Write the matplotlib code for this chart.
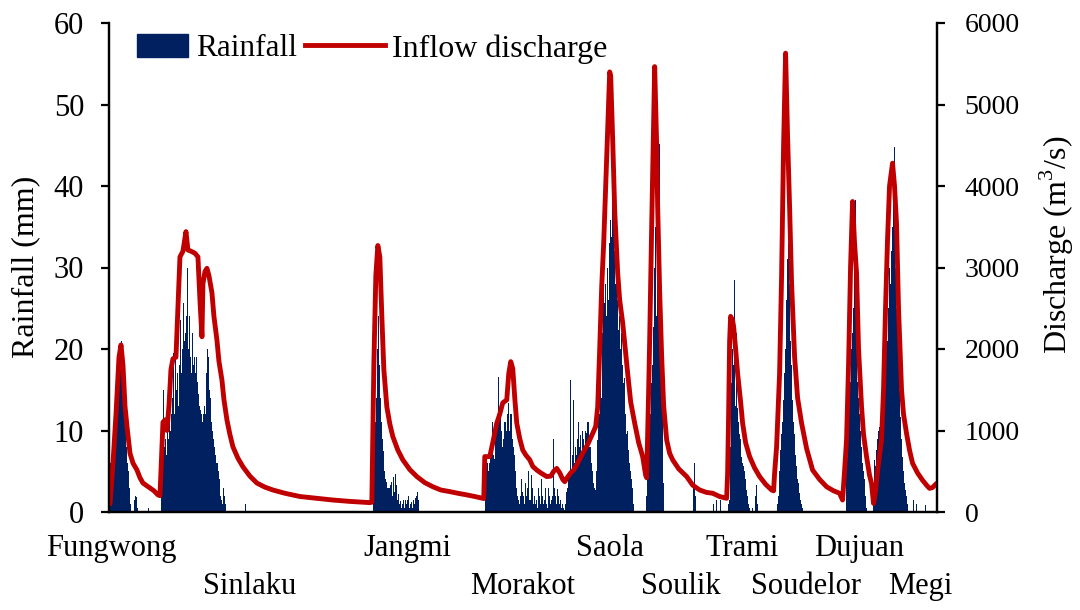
import matplotlib
matplotlib.use("Agg")
import matplotlib.pyplot as plt
import numpy as np
from matplotlib.patches import Patch
from matplotlib.lines import Line2D
from matplotlib.transforms import blended_transform_factory

plt.rcParams['font.family'] = ['Liberation Serif', 'DejaVu Serif']
plt.rcParams['mathtext.fontset'] = 'custom'
plt.rcParams['mathtext.rm'] = 'Liberation Serif'

# ---- hourly rainfall (mm) of each typhoon event, with the hour each record starts ----
typhoons = ["Fungwong", "Sinlaku", "Jangmi", "Morakot", "Saola",
            "Soulik", "Trami", "Soudelor", "Dujuan", "Megi"]
event_start = [1, 52, 264, 376, 489, 537, 619, 668, 737, 764]

rain_fungwong = [6, 7, 8, 9, 10, 12, 14, 15, 17, 19, 20, 21, 17, 14, 12, 10, 8, 6, 5, 3,
                 1, 0, 0, 0, 1.5, 2, 1.8, 0.5]
rain_sinlaku = [7, 10, 15, 8, 9, 7, 10, 9, 11, 10, 12, 14, 19.5, 12, 22.6, 15, 17, 13, 18,
                23.5, 17, 20, 25.6, 21, 22, 24, 30, 20, 24, 19, 17, 22, 18, 19, 17, 19, 16,
                14.5, 13, 12.5, 12, 11, 12, 13, 12, 17, 20, 19, 15, 14, 11, 10, 9, 8, 7, 6,
                6, 5, 4, 2, 1.5, 1, 3, 2, 1]
rain_jangmi = [4, 8, 11, 14, 20, 24, 18, 14, 11, 9, 7.5, 5, 4, 3.7, 3, 2.9, 3, 3.3, 3.7, 2,
               4.3, 2.5, 4.7, 3.3, 1.5, 2.2, 1, 1.3, 0.5, 1, 1.5, 0.5, 1.5, 1, 1.5, 2, 0.5,
               1, 1.2, 0.5, 1.5, 1, 1.7, 2, 2.5, 1.5]
rain_morakot = [5, 5.5, 6, 5, 6, 7, 8, 11, 7, 6.5, 9, 10, 12, 16.6, 12.5, 12.5, 10, 8, 9,
                11, 11, 10, 12, 13.4, 10, 12, 12, 9, 8, 7, 5, 3, 2, 1.5, 1, 2, 4, 2.5, 2,
                1, 3.5, 2, 3, 5, 1.5, 1.5, 4.6, 3, 1, 2, 1, 1.5, 0.5, 3, 2, 1, 4, 2, 1,
                1.5, 3, 1, 0.5, 3, 2, 1, 1.5, 2, 9, 3, 2, 1, 2.8, 2, 1, 1.5, 0.5, 1, 0.5,
                0.3, 1, 2.5, 3, 4, 5, 16.2, 5, 7, 13.7, 6, 8, 7, 9, 11, 8, 9.5, 7, 10, 9,
                8, 10, 9.7, 11, 11, 8, 8, 6, 5, 3.5, 3, 2.7, 5, 8.8]
rain_saola = [18, 12, 15.8, 14, 22, 27, 25.6, 28, 24, 30, 26, 33, 35.8, 33.8, 38, 45.6,
              32, 28, 30, 26, 22.3, 24, 20, 22, 18, 15.8, 16.5, 12, 9.6, 10, 7.6, 6, 5,
              4, 3, 1]
rain_soulik = [2, 4.3, 7, 9.6, 12, 15.8, 18, 22.7, 30, 35, 24, 30, 30, 45.2, 20, 16, 12,
               3.5]
rain_trami = [1, 1.5, 8, 15.8, 20, 18, 28.5, 13, 22, 12.8, 11, 9.6, 9, 6.8, 6, 5.6, 5, 4,
              2.7, 2, 1, 0.5, 0, 0, 0.5, 0, 0, 2, 3.3, 1]
rain_soudelor = [1, 2, 5, 7.6, 9.6, 11, 13.8, 17, 20, 26, 31, 33, 28, 21, 18, 13.8, 11,
                 9.6, 7, 5.6, 4, 3.5, 2.3, 1.5, 1, 0.5]
rain_dujuan = [5, 6.8, 19, 19.8, 16, 20, 22, 25, 30, 38.3, 22, 16, 14, 12, 10, 8, 6, 5, 4,
               2, 0.5]
rain_megi = [3.5, 6.4, 5.6, 7.6, 9, 10, 10.4, 9, 10, 13.6, 12, 15, 17, 22, 21, 25, 30, 28,
             32, 35, 38, 44.8, 30, 25, 22, 19, 15, 11.6, 9, 6.8, 5, 3.5, 2.7, 2, 1]

# isolated light showers between events
shower_hour = [39, 136, 584, 585, 586, 604, 607, 611, 804, 807, 816]
shower_rain = [0.5, 1, 3, 6, 2, 1, 1.5, 1.5, 1.5, 1, 0.8]

# ---- inflow discharge (m3/s) ----
flow_hour = [1, 4, 7, 10, 12, 14, 16, 18, 21, 24, 28, 31, 34, 38, 41, 45, 49, 51,
             52, 54, 56, 58, 60, 62, 64, 67, 69, 71, 74, 77, 79, 82, 86, 89, 91, 93, 94, 96,
             98, 100, 103, 105, 108, 110, 113, 115, 118, 121, 124, 129, 134, 141, 148, 156,
             164, 176, 191, 206, 224, 241, 261,
             263, 264, 265, 267, 269, 271, 273, 275, 278, 281, 284, 289, 294, 301, 308, 316,
             324, 332, 341, 349, 358, 366, 373, 375,
             376, 381, 384, 388, 391, 394, 398, 400, 402, 404, 406, 408, 411, 414, 417, 421,
             424, 428, 432, 438, 442, 445, 448, 451, 454, 456, 459, 462, 465, 469, 474, 479,
             484, 487,
             489, 491, 493, 495, 498, 501, 502, 504, 506, 509, 511, 514, 517, 519, 522, 526,
             530, 534, 537, 538,
             540, 541, 543, 546, 548, 549, 551, 553, 555, 558, 561, 564, 570, 578, 584, 591,
             598, 604, 611, 618,
             619, 620, 621, 622, 624, 625, 627, 629, 632, 634, 637, 641, 646, 651, 657, 663,
             665,
             666, 668, 671, 673, 675, 677, 679, 681, 683, 686, 689, 693, 698, 704, 711, 718,
             725, 731, 734,
             736, 738, 740, 742, 744, 746, 748, 750, 753, 755, 758, 761, 763, 765,
             767, 769, 773, 775, 777, 779, 781, 784, 786, 788, 790, 793, 795, 798, 801, 804,
             809, 814, 818, 821, 824, 828]
flow_q = [100, 600, 1200, 1900, 2050, 1800, 1300, 1050, 720, 600, 515, 420, 355, 320, 295,
          260, 210, 200,
          500, 1100, 1130, 1000, 1300, 1750, 1880, 1900, 2500, 3130, 3200, 3440, 3215, 3200,
          3175, 3130, 2600, 2150, 2800, 2950, 2990, 2900, 2690, 2400, 2110, 1850, 1620, 1380,
          1130, 950, 800, 660, 555, 440, 355, 305, 270, 230, 190, 170, 147, 130, 115,
          120, 1000, 1800, 2900, 3270, 3130, 2400, 1750, 1290, 1080, 925, 760, 640, 520, 435,
          360, 310, 270, 250, 230, 210, 190, 170, 165,
          680, 680, 850, 1090, 1200, 1340, 1375, 1700, 1845, 1760, 1400, 1090, 900, 760, 700,
          640, 560, 515, 480, 435, 440, 500, 535, 480, 400, 372, 430, 480, 515, 600, 720,
          830, 965, 1050,
          1290, 2000, 2765, 3300, 4360, 5400, 5350, 4565, 3700, 2930, 2600, 2320, 1950, 1700,
          1350, 1090, 850, 680, 450, 420,
          1500, 2110, 3500, 5465, 4500, 3745, 2700, 1905, 1300, 885, 720, 640, 530, 435, 330,
          270, 240, 230, 190, 168,
          475, 1200, 2100, 2400, 2350, 2275, 2000, 1700, 1350, 1090, 850, 680, 540, 435, 340,
          270, 260,
          475, 800, 1700, 2900, 4500, 5630, 4600, 3745, 2800, 1905, 1400, 1090, 780, 515, 400,
          310, 260, 230, 147,
          500, 885, 1800, 3000, 3810, 3300, 2930, 2000, 1290, 950, 680, 450, 350, 105,
          250, 500, 885, 1500, 2500, 3340, 4000, 4280, 4000, 3540, 2500, 1500, 1200, 965,
          760, 600, 480, 390, 330, 290, 300, 350]

# hour at which each typhoon name is written, and its row below the axis
label_hour = [2, 141, 299, 414, 501, 572, 634, 697, 751, 812]
label_row = [0, 1, 0, 1, 0, 1, 0, 1, 0, 1]

RAIN_COLOR = "#002060"
FLOW_COLOR = "#C00000"

rain_series = [rain_fungwong, rain_sinlaku, rain_jangmi, rain_morakot, rain_saola,
               rain_soulik, rain_trami, rain_soudelor, rain_dujuan, rain_megi]
hours, rain = [], []
for start, vals in zip(event_start, rain_series):
    hours.extend(start + np.arange(len(vals)))
    rain.extend(vals)
hours.extend(shower_hour)
rain.extend(shower_rain)

fig = plt.figure(figsize=(10.8, 6.1), dpi=100)
ax = fig.add_axes([109 / 1080, 1 - 512 / 610, (937 - 109) / 1080, 489 / 610])
ax2 = ax.twinx()

ax.bar(hours, rain, width=1.0, color=RAIN_COLOR, linewidth=0, align="edge")
ax2.plot(flow_hour, flow_q, color=FLOW_COLOR, linewidth=3.5, solid_joinstyle="round",
         solid_capstyle="round")

ax.set_xlim(0, 828.5)
ax.set_ylim(0, 60)
ax2.set_ylim(0, 6000)
ax.set_yticks(np.arange(0, 61, 10))
ax2.set_yticks(np.arange(0, 6001, 1000))
ax.set_xticks([])

for a in (ax, ax2):
    a.spines["top"].set_visible(False)
    for s in a.spines.values():
        s.set_linewidth(1.6)
        s.set_color("black")
ax.tick_params(axis="y", direction="out", length=6, width=1.6, labelsize=22, pad=12)
ax2.tick_params(axis="y", direction="out", length=6, width=1.6, labelsize=20, pad=14)

ax.set_ylabel("Rainfall (mm)", fontsize=23)
ax2.set_ylabel("Discharge (m$^3$/s)", fontsize=23)
ax.yaxis.set_label_coords(-0.0833, 0.501)
ax2.yaxis.set_label_coords(1.122, 0.546)

trans = blended_transform_factory(ax.transData, ax.transAxes)
row_y = [-0.074, -0.153]
for name, h, r in zip(typhoons, label_hour, label_row):
    ax.text(h, row_y[r], name, transform=trans, ha="center", va="center", fontsize=22)

fig.legend(handles=[Patch(color=RAIN_COLOR)], labels=["Rainfall"],
           loc="center left", bbox_to_anchor=(137 / 1080, 0.920), frameon=False,
           fontsize=22.5, handlelength=1.63, handleheight=0.75, handletextpad=0.25,
           borderpad=0, borderaxespad=0)
fig.legend(handles=[Line2D([], [], color=FLOW_COLOR, linewidth=3.5)],
           labels=["Inflow discharge"], loc="center left",
           bbox_to_anchor=(305 / 1080, 0.920), frameon=False, fontsize=23,
           handlelength=2.5, handletextpad=0.22, borderpad=0, borderaxespad=0)

fig.savefig("out.png", dpi=100)
